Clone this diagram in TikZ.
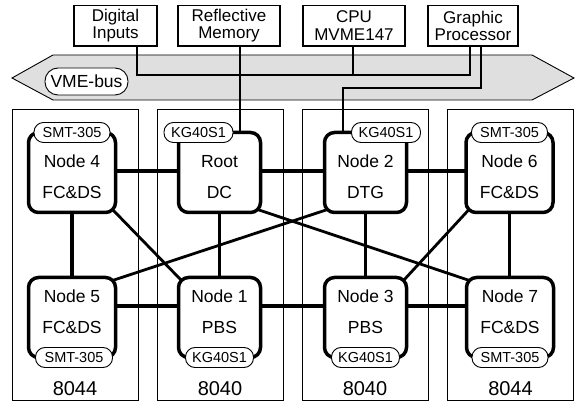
\documentclass[tikz,border=0pt]{standalone}
\usepackage{fontspec}
\setmainfont{Liberation Sans}
\usetikzlibrary{calc}
\pgfdeclarelayer{bg}
\pgfsetlayers{bg,main}
\tikzset{
  every node/.style={inner sep=0pt, outer sep=0pt},
  topbox/.style={draw, line width=1.1pt, minimum height=40.5pt, align=center,
    font=\fontsize{17}{17.6}\selectfont},
  busline/.style={line width=1.3pt},
  bus/.style={draw, line width=0.9pt, fill=gray!25},
  pill/.style={draw, line width=0.9pt, fill=white, rounded corners=9.5pt,
    minimum height=20pt, font=\fontsize{14.5}{16}\selectfont},
  unitbox/.style={draw, line width=3.5pt, rounded corners=10pt, fill=white,
    minimum height=80pt},
  smtbox/.style={unitbox, minimum width=87pt},
  kgbox/.style={unitbox, minimum width=82pt},
  unittext/.style={align=center, font=\fontsize{17.5}{31}\selectfont},
  rack/.style={draw, line width=0.8pt, minimum width=126pt, minimum height=291pt},
  racklabel/.style={font=\fontsize{20}{24}\selectfont},
  link/.style={line width=3.6pt},
  crosslink/.style={line width=2.8pt},
}
\begin{document}
\begin{tikzpicture}[x=1pt, y=-1pt]
\useasboundingbox (0,0) rectangle (579,403);

% VME backplane
\draw[bus] (12,78) -- (53,55) -- (532,55) -- (574,78) -- (532,100) -- (53,100) -- cycle;
\node[pill, minimum width=83pt, minimum height=27pt, rounded corners=13pt,
  font=\fontsize{17.5}{20}\selectfont] (vme) at (86.5,81.5) {VME-bus};

% boards on the bus
\node[topbox, minimum width=83pt]  (DI)  at (115.5,25.75) {Digital\\Inputs};
\node[topbox, minimum width=102pt] (RM)  at (229,25.75)   {Reflective\\Memory};
\node[topbox, minimum width=102pt] (CPU) at (354,25.75)   {CPU\\MVME147};
\node[topbox, minimum width=90pt]  (GP)  at (473,25.75)   {Graphic\\Processor};

% processing units
\node[smtbox] (N4)   at (72,172.5)    {};
\node[kgbox]  (Root) at (219.5,172.5) {};
\node[kgbox]  (N2)   at (365.5,172.5) {};
\node[smtbox] (N6)   at (509.5,172.5) {};
\node[smtbox] (N5)   at (72,317.5)    {};
\node[kgbox]  (N1)   at (219.5,317.5) {};
\node[kgbox]  (N3)   at (365.5,317.5) {};
\node[smtbox] (N7)   at (510,317.5)   {};

\node[unittext] (T4)    at ($(N4.center)+(0,4.5)$)   {Node 4\\FC\&DS};
\node[unittext] (TRoot) at ($(Root.center)+(0,4.5)$) {Root\\DC};
\node[unittext] (T2)    at ($(N2.center)+(0,4.5)$)   {Node 2\\DTG};
\node[unittext] (T6)    at ($(N6.center)+(0,4.5)$)   {Node 6\\FC\&DS};
\node[unittext] (T5)    at ($(N5.center)+(0,-5.5)$)  {Node 5\\FC\&DS};
\node[unittext] (T1)    at ($(N1.center)+(0,-5.5)$)  {Node 1\\PBS};
\node[unittext] (T3)    at ($(N3.center)+(0,-5.5)$)  {Node 3\\PBS};
\node[unittext] (T7)    at ($(N7.center)+(0,-5.5)$)  {Node 7\\FC\&DS};

% bus wiring
\draw[busline] ([xshift=21.5pt]DI.south) -- ++(0,29) -| ([xshift=-3pt]GP.south);
\draw[busline] ([xshift=-1pt]CPU.south) -- ++(0,29);
\draw[busline] ([xshift=11pt]RM.south) -- ([xshift=11pt]RM.south |- Root.north);
\draw[busline] ([xshift=8pt]GP.south) -- ++(0,42) -| ([xshift=-22.5pt]N2.north);

% board type tags
\node[pill, minimum width=76pt] (L4)    at (N4.north) {SMT-305};
\node[pill, minimum width=69pt] (LRoot) at ([xshift=-21pt]Root.north) {KG40S1};
\node[pill, minimum width=69pt] (L2)    at ([xshift=20.5pt]N2.north) {KG40S1};
\node[pill, minimum width=76pt] (L6)    at (N6.north) {SMT-305};
\node[pill, minimum width=77pt] (L5)    at ([xshift=2pt]N5.south) {SMT-305};
\node[pill, minimum width=68pt] (L1)    at (N1.south) {KG40S1};
\node[pill, minimum width=68pt] (L3)    at (N3.south) {KG40S1};
\node[pill, minimum width=76pt] (L7)    at (N7.south) {SMT-305};

\begin{pgfonlayer}{bg}
  % racks
  \node[rack] (R1) at (75,254.5)    {};
  \node[rack] (R2) at (220,254.5)   {};
  \node[rack] (R3) at (365,254.5)   {};
  \node[rack] (R4) at (510.5,254.5) {};
  % grid links
  \draw[link] ([yshift=1.5pt]N4.east)   -- ([yshift=1.5pt]Root.west);
  \draw[link] ([yshift=1.5pt]Root.east) -- ([yshift=1.5pt]N2.west);
  \draw[link] ([yshift=1.5pt]N2.east)   -- ([yshift=1.5pt]N6.west);
  \draw[link] ([yshift=11.5pt]N5.east)  -- ([yshift=11.5pt]N1.west);
  \draw[link] ([yshift=11.5pt]N1.east)  -- ([yshift=11.5pt]N3.west);
  \draw[link] ([yshift=11.5pt]N3.east)  -- ([yshift=11.5pt]N7.west);
  \draw[link] (N4.south)   -- (N4.south |- N5.north);
  \draw[link] (Root.south) -- (Root.south |- N1.north);
  \draw[link] (N2.south)   -- (N2.south |- N3.north);
  \draw[link] (N6.south)   -- (N6.south |- N7.north);
  % cross links
  \draw[crosslink] ($(N4.south east)+(-3,-3)$)   -- ($(N1.north west)+(3,3)$);
  \draw[crosslink] ($(Root.south east)+(-3,-3)$) -- ($(N7.north west)+(3,3)$);
  \draw[crosslink] ($(N5.north east)+(-3,3)$)    -- ($(N2.south west)+(3,-3)$);
  \draw[crosslink] ($(N6.south west)+(3,-3)$)    -- ($(N3.north east)+(-3,3)$);
\end{pgfonlayer}

% rack models
\node[racklabel] (R1l) at ($(R1.south)+(0,-11)$) {8044};
\node[racklabel] (R2l) at ($(R2.south)+(0,-11)$) {8040};
\node[racklabel] (R3l) at ($(R3.south)+(0,-11)$) {8040};
\node[racklabel] (R4l) at ($(R4.south)+(0,-11)$) {8044};
\end{tikzpicture}
\end{document}
